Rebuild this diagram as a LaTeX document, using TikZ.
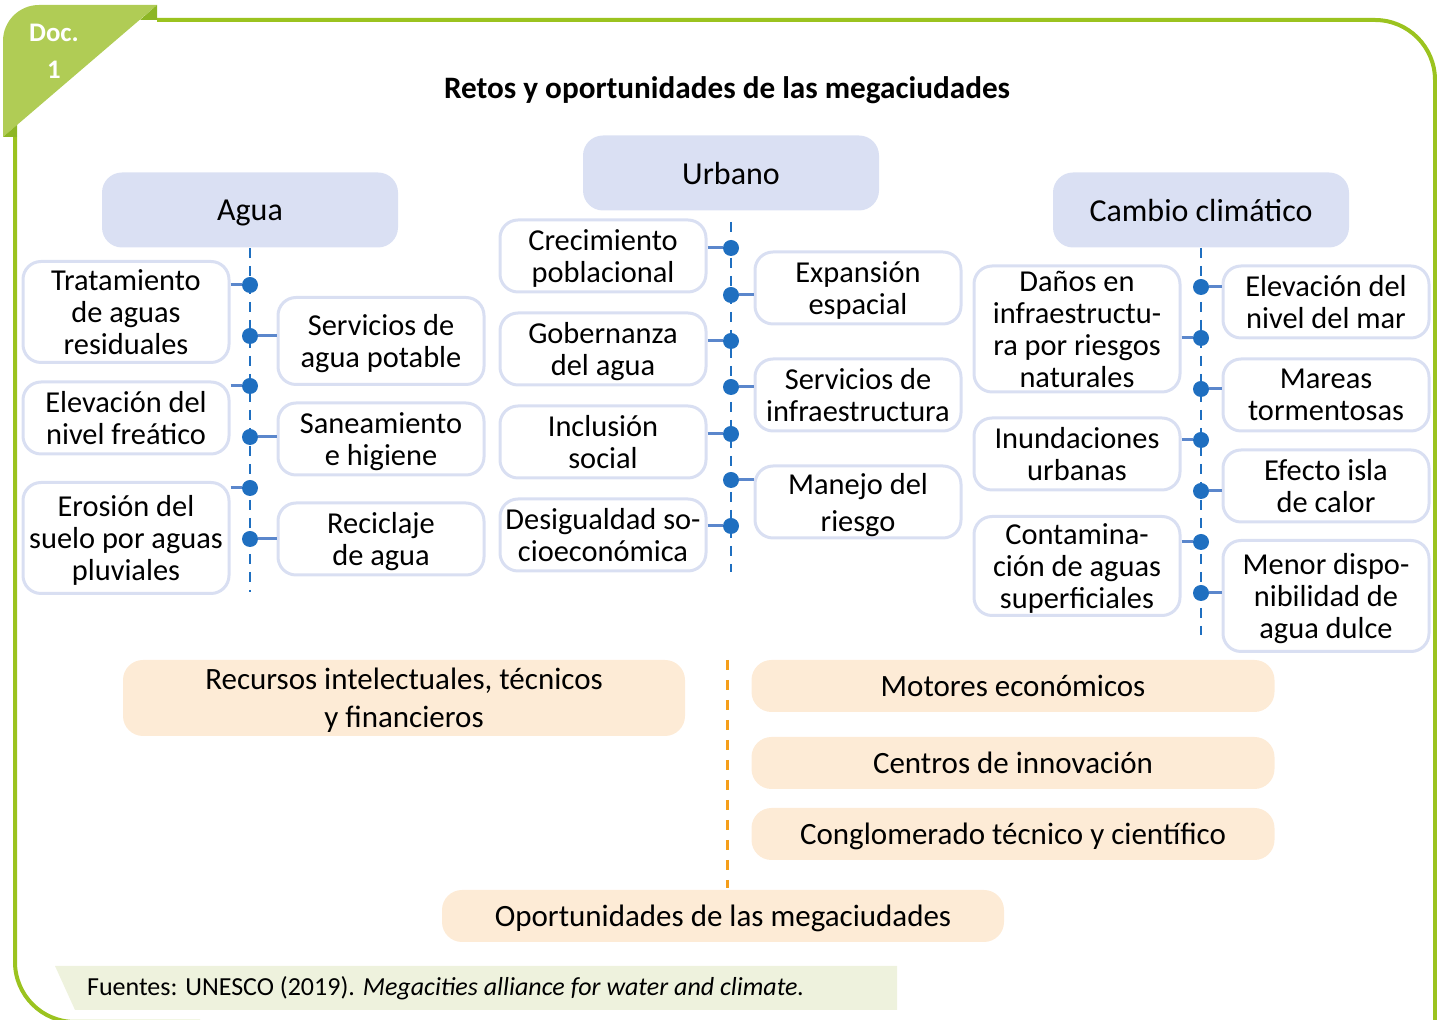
\documentclass[tikz,border=0pt]{standalone}
\usepackage{fontspec}
\setmainfont{Carlito}
\definecolor{framegreen}{HTML}{9BC31F}
\definecolor{tabgreen}{HTML}{B0CC55}
\definecolor{tabdark}{HTML}{8DB624}
\definecolor{headblue}{HTML}{DAE0F3}
\definecolor{boxline}{HTML}{D9DFF2}
\definecolor{dotblue}{HTML}{1F6FC0}
\definecolor{tickblue}{HTML}{5B87CC}
\definecolor{oppfill}{HTML}{FDEBD6}
\definecolor{oppline}{HTML}{F59E1A}
\definecolor{notefill}{HTML}{EEF2DD}
\tikzset{
  header/.style={rectangle, rounded corners=10pt, fill=headblue, minimum width=148pt, minimum height=37.5pt, text depth=0pt, font=\fontsize{16}{19}\selectfont},
  itembox/.style={rectangle, rounded corners=9pt, draw=boxline, line width=1.5pt, fill=white, minimum width=103pt, minimum height=36pt, align=center, inner sep=2pt, text depth=0pt, font=\fontsize{15.2}{16}\selectfont},
  dot/.style={circle, fill=dotblue, minimum size=8pt, inner sep=0pt},
  spine/.style={dash pattern=on 5pt off 4pt, line width=1.3pt, dotblue},
  tick/.style={line width=1.5pt, tickblue},
  oppbox/.style={rectangle, rounded corners=10pt, fill=oppfill, minimum height=26pt, align=center, text depth=0pt, font=\fontsize{15.5}{17}\selectfont},
  oppspine/.style={dash pattern=on 5pt off 5pt, line width=1.5pt, oppline},
  frame/.style={line width=2pt, framegreen}
}

\begin{document}
\begin{tikzpicture}[x=0.5pt, y=-0.5pt]
  \useasboundingbox (0,0) rectangle (1437,1020);

  % frame and tab
  \draw[frame, rounded corners=30pt] (157,20) -- (1435,20) -- (1435,1060);
  \draw[frame, rounded corners=30pt] (15,137) -- (15,1022) -- (200,1022);
  \fill[tabgreen] (3,137) [rounded corners=18pt] -- (3,5) [sharp corners] -- (157,5) -- cycle;
  \fill[tabdark] (157,5) -- (157,20) -- (140,20) -- cycle;
  \fill[tabdark] (3,137) -- (17,137) -- (17,125) -- cycle;
  \node[text=white, font=\bfseries\fontsize{13.4}{15}\selectfont] (doc) at (54,33) {Doc.};
  \node[text=white, font=\bfseries\fontsize{13.4}{15}\selectfont] (docnum) at (54,70) {1};

  \node[text depth=0pt, font=\bfseries\fontsize{15.6}{18}\selectfont] (title) at (727,88) {Retos y oportunidades de las megaciudades};

  % headers
  \node[header] (agua) at (250,210) {Agua};
  \node[header] (urbano) at (731,173) {Urbano};
  \node[header] (cambio) at (1201,210) {Cambio climático};

  % spines
  \coordinate (aguaend) at (250,592);
  \coordinate (urbanotop) at (731,222);
  \coordinate (urbanoend) at (731,572);
  \coordinate (cambioend) at (1201,635);
  \draw[spine] (agua.south) -- (aguaend);
  \draw[spine] (urbanotop) -- (urbanoend);
  \draw[spine] (cambio.south) -- (cambioend);

  % agua
  \node[itembox, minimum height=50.5pt] (tratamiento) at (126,312) {Tratamiento\\de aguas\\residuales};
  \node[itembox] (freatico) at (126,418) {Elevación del\\nivel freático};
  \node[itembox, minimum height=55.5pt] (erosion) at (126,538) {Erosión del\\suelo por aguas\\pluviales};
  \node[itembox, minimum height=43.5pt] (potable) at (381,341) {Servicios de\\agua potable};
  \node[itembox] (saneamiento) at (381,439) {Saneamiento\\e higiene};
  \node[itembox] (reciclaje) at (381,539) {Reciclaje\\de agua};

  \node[dot] (a1) at (250,285) {};
  \node[dot] (a2) at (250,336) {};
  \node[dot] (a3) at (250,386) {};
  \node[dot] (a4) at (250,437) {};
  \node[dot] (a5) at (250,488) {};
  \node[dot] (a6) at (250,539) {};

  \draw[tick] (tratamiento.east |- a1) -- (a1.west);
  \draw[tick] (a2.east) -- (potable.west |- a2);
  \draw[tick] (freatico.east |- a3) -- (a3.west);
  \draw[tick] (a4.east) -- (saneamiento.west |- a4);
  \draw[tick] (erosion.east |- a5) -- (a5.west);
  \draw[tick] (a6.east) -- (reciclaje.west |- a6);

  % urbano
  \node[itembox] (crecimiento) at (603,256) {Crecimiento\\poblacional};
  \node[itembox] (gobernanza) at (603,349) {Gobernanza\\del agua};
  \node[itembox] (inclusion) at (603,442) {Inclusión\\social};
  \node[itembox] (desigualdad) at (603,535) {Desigualdad so-\\cioeconómica};
  \node[itembox] (expansion) at (858,288) {Expansión\\espacial};
  \node[itembox] (infra) at (858,395) {Servicios de\\infraestructura};
  \node[itembox] (manejo) at (858,502) {Manejo del\\[2.5pt]riesgo};

  \node[dot] (u1) at (731,248) {};
  \node[dot] (u2) at (731,295) {};
  \node[dot] (u3) at (731,341) {};
  \node[dot] (u4) at (731,387) {};
  \node[dot] (u5) at (731,434) {};
  \node[dot] (u6) at (731,480) {};
  \node[dot] (u7) at (731,526) {};

  \draw[tick] (crecimiento.east |- u1) -- (u1.west);
  \draw[tick] (u2.east) -- (expansion.west |- u2);
  \draw[tick] (gobernanza.east |- u3) -- (u3.west);
  \draw[tick] (u4.east) -- (infra.west |- u4);
  \draw[tick] (inclusion.east |- u5) -- (u5.west);
  \draw[tick] (u6.east) -- (manejo.west |- u6);
  \draw[tick] (desigualdad.east |- u7) -- (u7.west);

  % cambio climatico
  \node[itembox, minimum height=63pt] (danos) at (1077,329) {Daños en\\infraestructu-\\ra por riesgos\\naturales};
  \node[itembox] (inundaciones) at (1077,454) {Inundaciones\\urbanas};
  \node[itembox, minimum height=49.5pt] (contaminacion) at (1077,566) {Contamina-\\ción de aguas\\superficiales};
  \node[itembox] (mar) at (1326,302) {Elevación del\\nivel del mar};
  \node[itembox] (mareas) at (1326,395) {Mareas\\tormentosas};
  \node[itembox] (isla) at (1326,486) {Efecto isla\\de calor};
  \node[itembox, minimum height=55.5pt] (dulce) at (1326,596) {Menor dispo-\\nibilidad de\\agua dulce};

  \node[dot] (c1) at (1201,287) {};
  \node[dot] (c2) at (1201,338) {};
  \node[dot] (c3) at (1201,389) {};
  \node[dot] (c4) at (1201,440) {};
  \node[dot] (c5) at (1201,491) {};
  \node[dot] (c6) at (1201,542) {};
  \node[dot] (c7) at (1201,593) {};

  \draw[tick] (c1.east) -- (mar.west |- c1);
  \draw[tick] (danos.east |- c2) -- (c2.west);
  \draw[tick] (c3.east) -- (mareas.west |- c3);
  \draw[tick] (inundaciones.east |- c4) -- (c4.west);
  \draw[tick] (c5.east) -- (isla.west |- c5);
  \draw[tick] (contaminacion.east |- c6) -- (c6.west);
  \draw[tick] (c7.east) -- (dulce.west |- c7);

  % oportunidades
  \coordinate (opptop) at (727,660);
  \coordinate (oppend) at (727,888);
  \draw[oppspine] (opptop) -- (oppend);
  \node[oppbox, minimum width=281pt, minimum height=38pt] (recursos) at (404,698) {Recursos intelectuales, técnicos\\[2pt]y financieros};
  \node[oppbox, minimum width=261.5pt] (motores) at (1013,686) {Motores económicos};
  \node[oppbox, minimum width=261.5pt] (centros) at (1013,763) {Centros de innovación};
  \node[oppbox, minimum width=261.5pt] (conglomerado) at (1013,834) {Conglomerado técnico y científico};
  \node[oppbox, minimum width=281pt] (oportunidades) at (723,916) {Oportunidades de las megaciudades};

  % fuente
  \fill[notefill] (55,966) -- (897,966) -- (897,1010) -- (75,1010) -- cycle;
  \node[anchor=west, font=\fontsize{13}{15}\selectfont] (source) at (80,988) {Fuentes: UNESCO (2019). \textit{Megacities alliance for water and climate.}};
\end{tikzpicture}
\end{document}
